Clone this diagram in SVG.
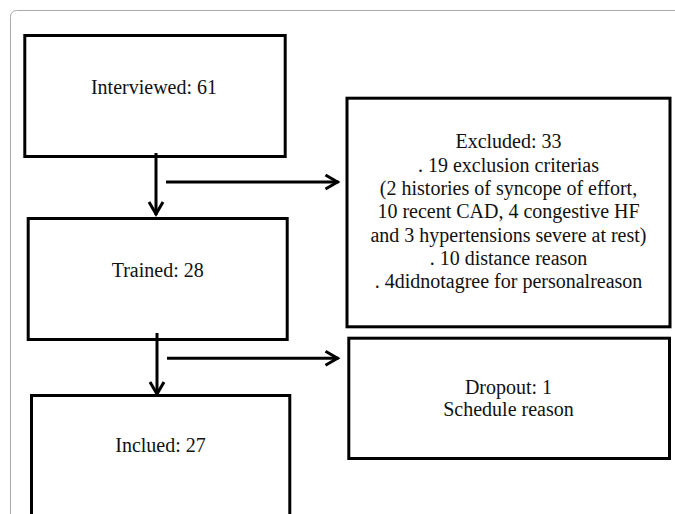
<svg xmlns="http://www.w3.org/2000/svg" width="675" height="514" viewBox="0 0 675 514">
<defs>
<style>
.box{fill:#fff;stroke:#000;stroke-width:3}
.t{font-family:"Liberation Serif","Times New Roman",serif;font-size:20px;fill:#111;text-anchor:middle}
.c{stroke:#000;stroke-width:3;fill:none}
</style>
<marker id="ah" viewBox="-16 -10 20 20" markerWidth="20" markerHeight="20" refX="0" refY="0" orient="auto" markerUnits="userSpaceOnUse">
<path d="M-13,-7 L-1,0 L-13,7" fill="none" stroke="#000" stroke-width="3"/>
</marker>
</defs>
<rect width="675" height="514" fill="#fff"/>
<rect x="10.5" y="10.5" width="700" height="540" rx="6" fill="none" stroke="#aaa" stroke-width="1"/>
<g id="n-interviewed">
<rect class="box" x="24.8" y="35.5" width="260.4" height="121"/>
<text class="t" x="154" y="94">Interviewed: 61</text>
</g>
<g id="n-trained">
<rect class="box" x="28.2" y="218.5" width="259" height="121"/>
<text class="t" x="157.7" y="277.3">Trained: 28</text>
</g>
<g id="n-inclued">
<rect class="box" x="31.5" y="395.5" width="258.3" height="130"/>
<text class="t" x="160.5" y="451.7">Inclued: 27</text>
</g>
<g id="n-excluded">
<rect class="box" x="347" y="98.2" width="323" height="228.6"/>
<text class="t" x="508.5" y="148.3">Excluded: 33</text>
<text class="t" x="508.5" y="171.6">. 19 exclusion criterias</text>
<text class="t" x="508.5" y="195">(2 histories of syncope of effort,</text>
<text class="t" x="508.5" y="218.3">10 recent CAD, 4 congestive HF</text>
<text class="t" x="508.5" y="241.6">and 3 hypertensions severe at rest)</text>
<text class="t" x="508.5" y="265">. 10 distance reason</text>
<text class="t" x="508.5" y="288.3">. 4didnotagree for personalreason</text>
</g>
<g id="n-dropout">
<rect class="box" x="348.8" y="338.2" width="320.7" height="120.3"/>
<text class="t" x="508.5" y="394">Dropout: 1</text>
<text class="t" x="508.5" y="415.7">Schedule reason</text>
</g>
<g id="connectors">
<line class="c" x1="156" y1="153" x2="156" y2="215" marker-end="url(#ah)"/>
<line class="c" x1="166" y1="182" x2="338.5" y2="182" marker-end="url(#ah)"/>
<line class="c" x1="157" y1="333" x2="157" y2="395" marker-end="url(#ah)"/>
<line class="c" x1="167" y1="358.3" x2="338.5" y2="358.3" marker-end="url(#ah)"/>
</g>
</svg>
